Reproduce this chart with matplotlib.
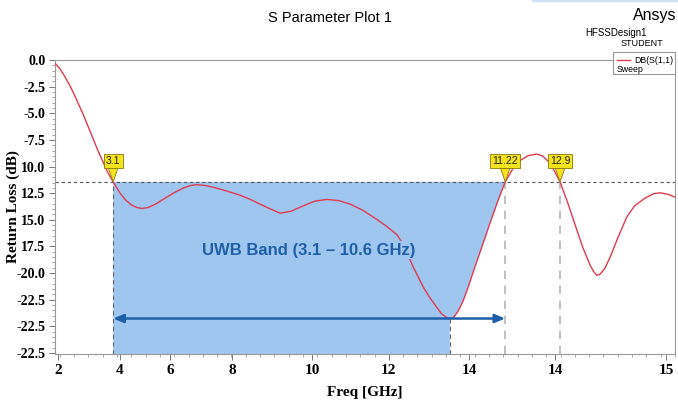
import numpy as np
import matplotlib
matplotlib.use('Agg')
import matplotlib.pyplot as plt
from matplotlib.ticker import FixedLocator, MultipleLocator, AutoMinorLocator
from matplotlib.patches import Rectangle
from matplotlib.lines import Line2D

# DB(S(1,1))
freq = [2.00, 2.10, 2.20, 2.30, 2.40, 2.50, 2.60, 2.70, 2.80, 2.90, 3.00, 3.10, 3.22,
        3.35, 3.47, 3.60, 3.72, 3.82, 3.95, 4.10, 4.30, 4.50, 4.70, 4.85, 4.97,
        5.15, 5.35, 5.60, 5.88, 6.10, 6.30, 6.50, 6.72, 6.95, 7.20, 7.45, 7.70,
        7.95, 8.19, 8.45, 8.71, 8.95, 9.17, 9.30, 9.40, 9.51, 9.62, 9.72, 9.85,
        9.97, 10.10, 10.20, 10.28, 10.36, 10.45, 10.55, 10.65, 10.76, 10.90,
        11.00, 11.12, 11.28, 11.44, 11.60, 11.75, 11.92, 12.10, 12.22, 12.34,
        12.47, 12.59, 12.75, 12.90, 13.05, 13.22, 13.30, 13.36, 13.43, 13.53,
        13.65, 13.80, 13.99, 14.15, 14.37, 14.55, 14.69, 14.85, 15.00]
s11 = [-0.30, -0.80, -1.50, -2.30, -3.20, -4.20, -5.20, -6.30, -7.40, -8.50, -9.50,
       -10.50, -11.44, -12.40, -13.10, -13.60, -13.85, -13.94, -13.85, -13.55,
       -13.00, -12.45, -12.00, -11.78, -11.70, -11.78, -11.98, -12.30, -12.69,
       -13.10, -13.53, -13.95, -14.38, -14.20, -13.70, -13.25, -13.09, -13.20,
       -13.53, -14.10, -14.85, -15.60, -16.40, -17.30, -18.30, -19.43, -20.40,
       -21.31, -22.25, -23.00, -23.80, -24.15, -24.27, -24.15, -23.60, -22.70,
       -21.50, -20.02, -18.20, -16.90, -15.32, -13.30, -11.44, -10.20, -9.45,
       -8.98, -8.83, -9.00, -9.50, -10.40, -11.44, -13.40, -15.40, -17.40,
       -19.27, -19.90, -20.21, -20.10, -19.55, -18.40, -16.70, -14.73, -13.70,
       -12.97, -12.55, -12.47, -12.60, -12.88]

xtick_pos = [2.06, 3.36, 4.41, 5.71, 7.39, 9.00, 10.68, 12.49, 14.81]
xtick_lab = ['2', '4', '6', '8', '10', '12', '14', '14', '15']
ytick_pos = [0, -2.5, -5, -7.5, -10, -12.5, -15, -17.5, -20, -22.5, -25, -27.5]
ytick_lab = ['0.0', '-2.5', '-5.0', '-7.5', '10.0', '12.5', '15.0', '17.5',
             '-20.0', '-22.5', '-22.5', '-22.5']

threshold = -11.44
marker_x = [3.22, 11.44, 12.59]
marker_lab = ['3.1', '11.22', '12.9']
band_lo, band_hi = 3.22, 11.44
arrow_y = -24.27
ybot = -27.6

serif = 'Liberation Serif'
sans = 'Liberation Sans'

fig = plt.figure(figsize=(6.78, 4.03), dpi=100)
ax = fig.add_axes([0.0811, 0.1216, 0.9145, 0.7295])
ax.set_xlim(2, 15)
ax.set_ylim(ybot, 0)

f = np.array(freq)
s = np.array(s11)
i_min = int(np.argmin(s))
seg = (f >= f[i_min]) & (f <= band_hi)
px = [band_lo, band_lo] + list(f[seg][::-1]) + [f[i_min]]
py = [ybot, threshold] + list(s[seg][::-1]) + [ybot]
ax.fill(px, py, color='#9fc6ef', lw=0, zorder=1)

ax.axhline(threshold, color='#555555', lw=0.8, ls=(0, (3, 2.5)), zorder=2)
ax.plot([band_lo, band_lo], [ybot, threshold], color='#666666', lw=0.8, ls=(0, (4, 3)), zorder=2)
ax.plot([f[i_min], f[i_min]], [ybot, s[i_min]], color='#666666', lw=0.8, ls=(0, (4, 3)), zorder=2)
for mx in marker_x[1:]:
    ax.plot([mx, mx], [ybot, threshold], color='#b5b5b5', lw=1.2, ls=(0, (5, 4)), zorder=2)

ax.plot(freq, s11, color='#e23a4e', lw=1.0, zorder=3)

ax.annotate('', xy=(band_lo, arrow_y), xytext=(band_hi, arrow_y),
            arrowprops=dict(arrowstyle='<|-|>,head_length=0.6,head_width=0.25',
                            color='#1f5fa8', lw=1.8, shrinkA=0, shrinkB=0), zorder=4)

ax.text(7.31, -17.86, 'UWB Band (3.1 \u2013 10.6 GHz)', family=sans, fontweight='bold',
        fontsize=12, color='#1f5fa8', ha='center', va='center', zorder=5,
        bbox=dict(boxstyle='square,pad=0.1', fc='#9fc6ef', ec='none'))

for mx, ml in zip(marker_x, marker_lab):
    ax.annotate(ml, xy=(mx, threshold), xytext=(0, 15), textcoords='offset points',
                ha='center', va='center', fontsize=7.5, family=sans, color='#222222', zorder=6,
                bbox=dict(boxstyle='square,pad=0.2', fc='#f3e21c', ec='#8a7a10', lw=0.6),
                arrowprops=dict(arrowstyle='wedge,tail_width=0.9,shrink_factor=0.5',
                                fc='#f3e21c', ec='#8a7a10', lw=0.6, shrinkA=0, shrinkB=0))

ax.xaxis.set_major_locator(FixedLocator(xtick_pos))
ax.set_xticklabels(xtick_lab, family=serif, fontweight='bold', fontsize=11)
ax.xaxis.set_minor_locator(MultipleLocator(0.3))
ax.yaxis.set_major_locator(FixedLocator(ytick_pos))
ax.set_yticklabels(ytick_lab, family=serif, fontweight='bold', fontsize=10)
ax.yaxis.set_minor_locator(AutoMinorLocator(5))
ax.tick_params(which='major', length=4, width=0.7, color='#777777', pad=3)
ax.tick_params(which='minor', length=2.5, width=0.6, color='#999999')
for sp in ax.spines.values():
    sp.set_color('#999999')
    sp.set_linewidth(0.8)

ax.set_xlabel('Freq [GHz]', family=serif, fontweight='bold', fontsize=11, labelpad=7)
ax.set_ylabel('Return Loss (dB)', family=serif, fontweight='bold', fontsize=11)
ax.yaxis.set_label_coords(-0.057, 0.5)

fig.text(0.487, 0.955, 'S Parameter Plot 1', family=sans, fontsize=10.5, ha='center', va='center')
fig.text(0.998, 0.962, 'Ansys', family=sans, fontsize=11.5, ha='right', va='center')
fig.text(0.908, 0.918, 'HFSSDesign1', family=sans, fontsize=7, ha='center', va='center')
fig.text(0.978, 0.893, 'STUDENT', family=sans, fontsize=6.5, ha='right', va='center')
fig.lines.append(Line2D([0.786, 1.0], [0.999, 0.999], color='#cfe3f5', lw=2.5, transform=fig.transFigure))

# legend box
fig.patches.append(Rectangle((0.904, 0.816), 0.092, 0.055, transform=fig.transFigure,
                             fc='white', ec='#999999', lw=0.8, zorder=5))
fig.lines.append(Line2D([0.910, 0.929], [0.851, 0.851], color='#e23a4e', lw=1.0,
                        transform=fig.transFigure, zorder=6))
fig.text(0.935, 0.851, 'DB(S(1,1)', family=sans, fontsize=6.3, ha='left', va='center', zorder=6)
fig.text(0.910, 0.827, 'Sweep', family=sans, fontsize=6.3, ha='left', va='center', zorder=6)

fig.savefig('out.png', dpi=100)
